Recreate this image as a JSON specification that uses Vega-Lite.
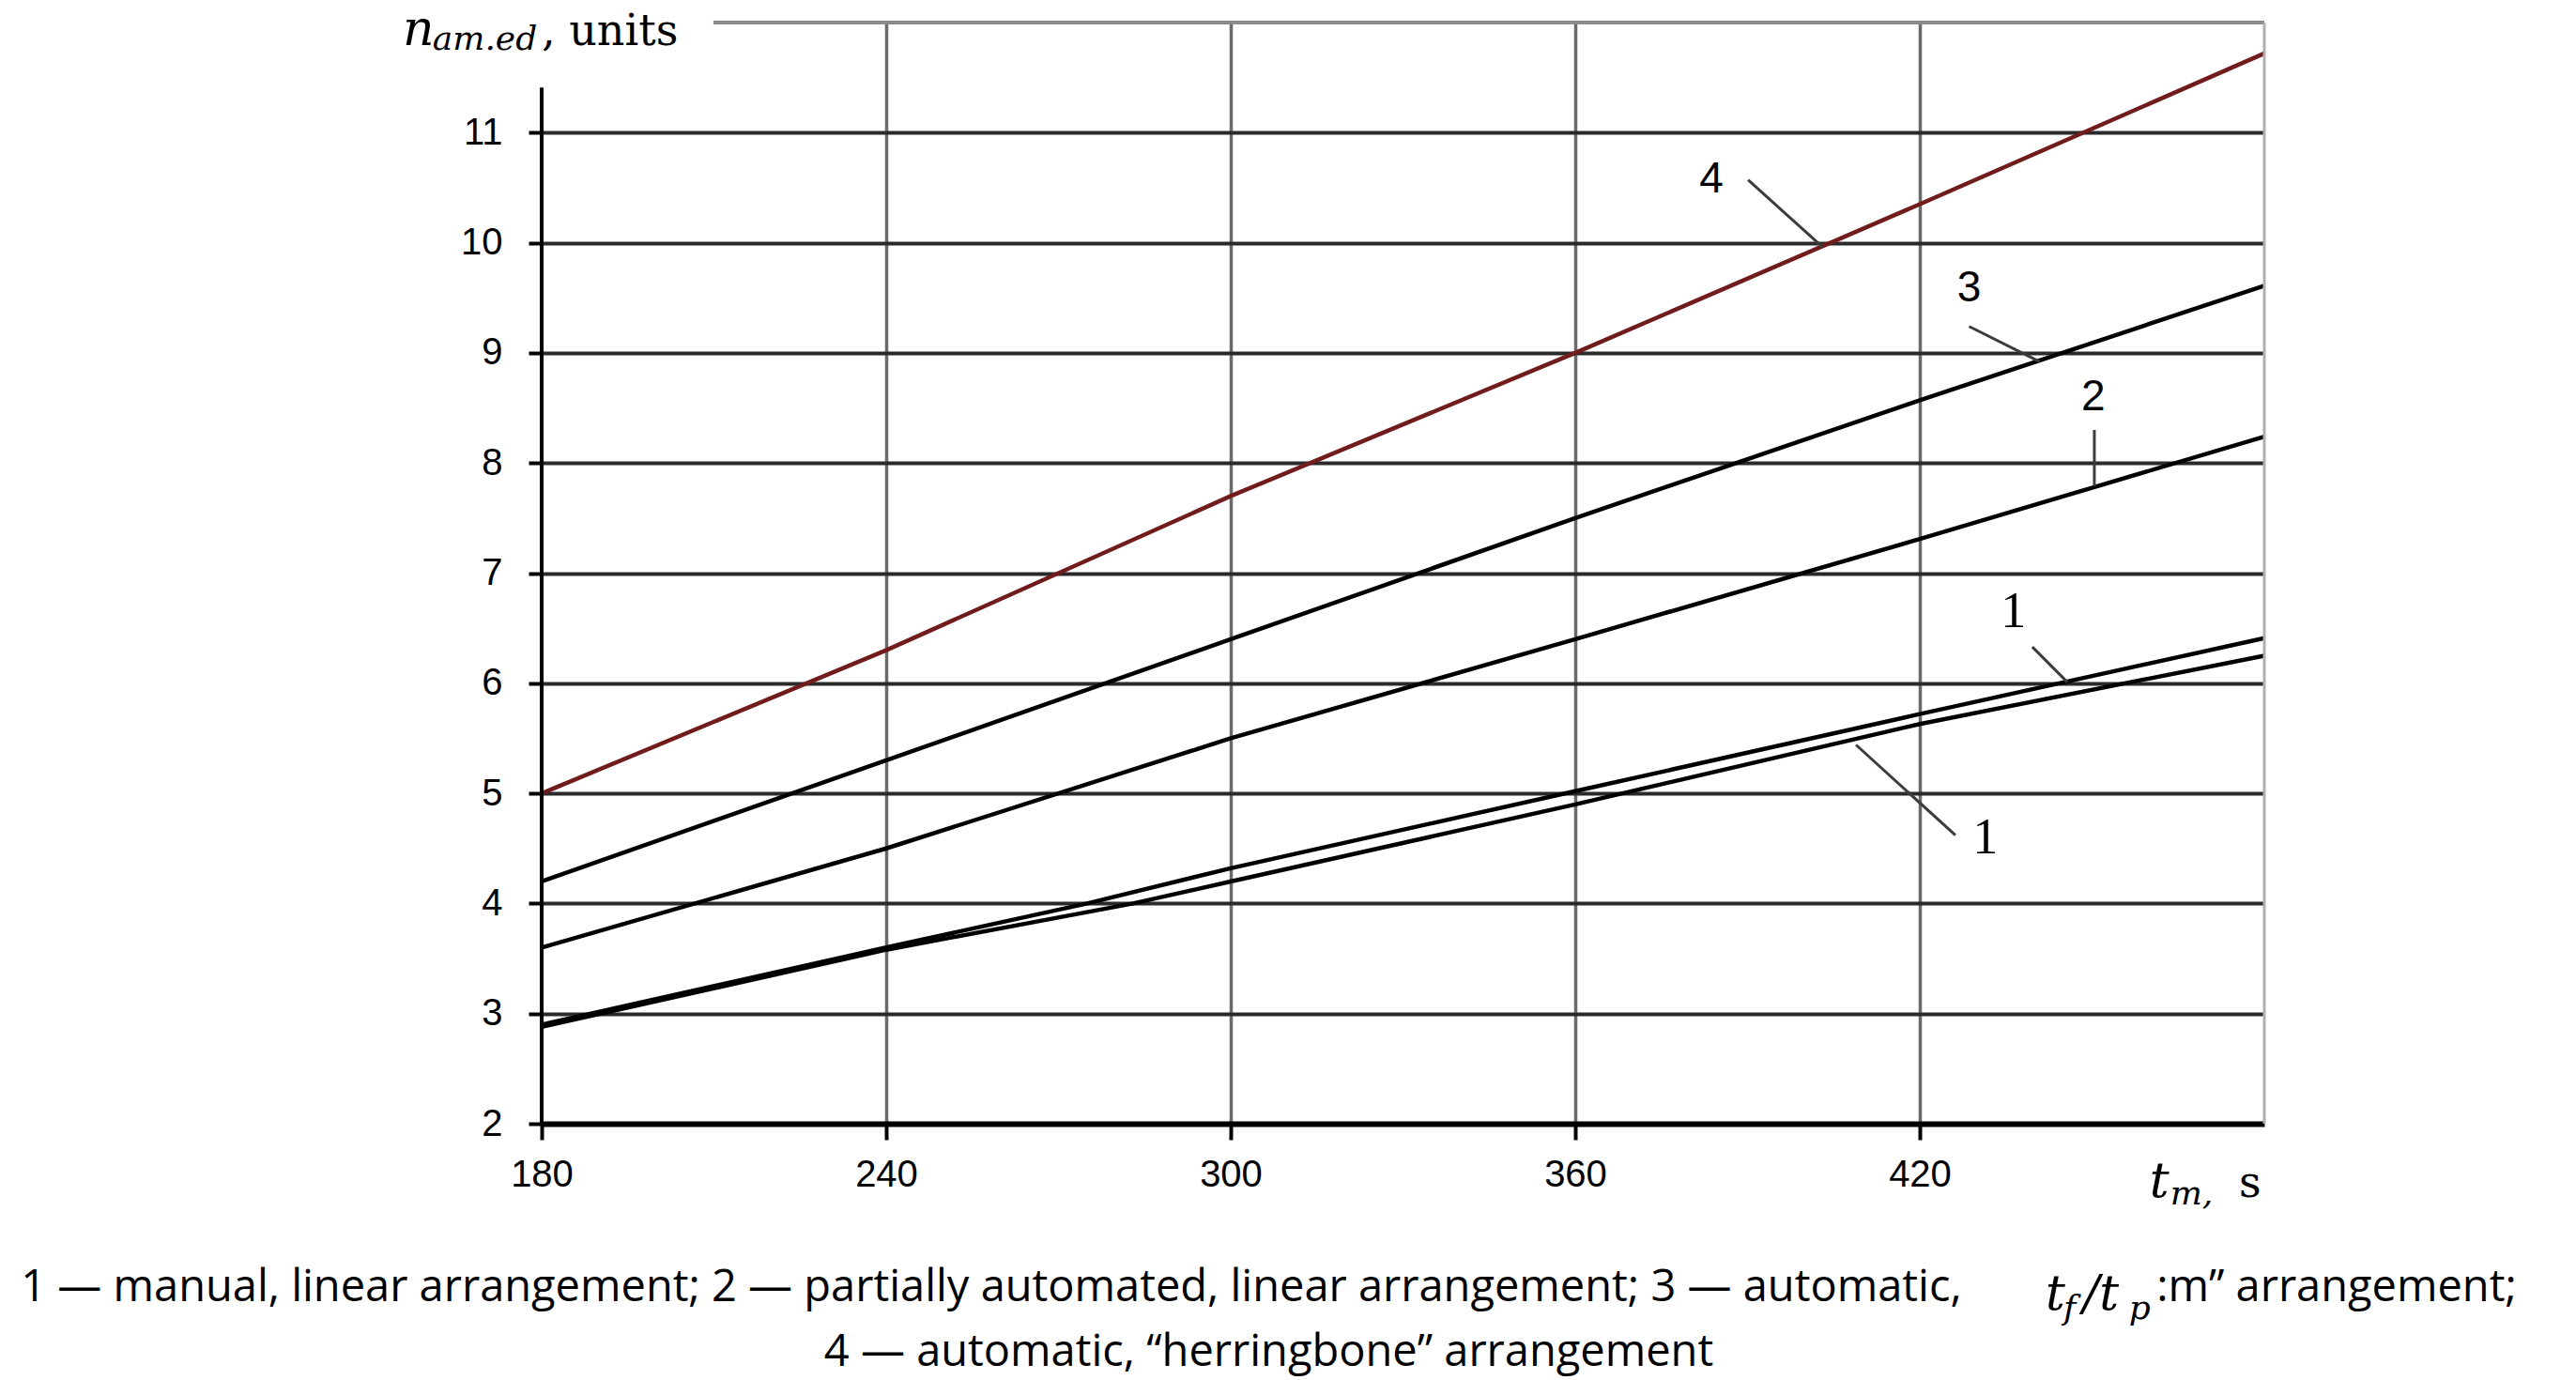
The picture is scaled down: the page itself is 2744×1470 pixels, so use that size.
{
  "$schema": "https://vega.github.io/schema/vega-lite/v6.json",
  "width": 1835,
  "height": 1173,
  "autosize": {"type": "none"},
  "padding": {"left": 577, "top": 24, "right": 332, "bottom": 273},
  "background": "white",
  "config": {"view": {"stroke": null}},
  "title": {
    "text": [
      "1 — manual, linear arrangement; 2 — partially automated, linear arrangement; 3 — automatic,\u00a0\u00a0\u00a0\u00a0\u00a0\u00a0\u00a0\u00a0\u00a0\u00a0\u00a0\u00a0\u00a0\u00a0\u00a0\u00a0\u00a0:m” arrangement;",
      "4 — automatic, “herringbone” arrangement"
    ],
    "orient": "bottom",
    "anchor": "middle",
    "font": "Open Sans",
    "fontSize": 47,
    "fontWeight": "normal",
    "color": "#000000",
    "lineHeight": 69,
    "offset": -63,
    "dx": -143
  },
  "datasets": {
    "curves": [
      {"curve": "1a", "t": 180, "n": 2.9},
      {"curve": "1a", "t": 240, "n": 3.6},
      {"curve": "1a", "t": 275, "n": 4.0},
      {"curve": "1a", "t": 300, "n": 4.32},
      {"curve": "1a", "t": 360, "n": 5.02},
      {"curve": "1a", "t": 420, "n": 5.72},
      {"curve": "1a", "t": 480, "n": 6.41},
      {"curve": "1b", "t": 180, "n": 2.88},
      {"curve": "1b", "t": 240, "n": 3.58},
      {"curve": "1b", "t": 283, "n": 4.0},
      {"curve": "1b", "t": 300, "n": 4.2},
      {"curve": "1b", "t": 360, "n": 4.9},
      {"curve": "1b", "t": 420, "n": 5.63},
      {"curve": "1b", "t": 480, "n": 6.25},
      {"curve": "2", "t": 180, "n": 3.6},
      {"curve": "2", "t": 240, "n": 4.5},
      {"curve": "2", "t": 300, "n": 5.5},
      {"curve": "2", "t": 360, "n": 6.4},
      {"curve": "2", "t": 420, "n": 7.31},
      {"curve": "2", "t": 480, "n": 8.24},
      {"curve": "3", "t": 180, "n": 4.2},
      {"curve": "3", "t": 240, "n": 5.3},
      {"curve": "3", "t": 300, "n": 6.4},
      {"curve": "3", "t": 360, "n": 7.5},
      {"curve": "3", "t": 420, "n": 8.57},
      {"curve": "3", "t": 480, "n": 9.61},
      {"curve": "4", "t": 180, "n": 5.0},
      {"curve": "4", "t": 240, "n": 6.3},
      {"curve": "4", "t": 300, "n": 7.7},
      {"curve": "4", "t": 360, "n": 9.0},
      {"curve": "4", "t": 420, "n": 10.35},
      {"curve": "4", "t": 480, "n": 11.72}
    ],
    "leaders": [
      {"t": 390.1, "n": 10.57, "t2": 403.1, "n2": 9.96},
      {"t": 428.6, "n": 9.24, "t2": 440.9, "n2": 8.92},
      {"t": 450.4, "n": 8.3, "t2": 450.4, "n2": 7.79},
      {"t": 439.6, "n": 6.33, "t2": 445.7, "n2": 6.01},
      {"t": 408.9, "n": 5.44, "t2": 426.2, "n2": 4.62}
    ],
    "labelsSans": [
      {"label": "4", "t": 383.7, "n": 10.58},
      {"label": "3", "t": 428.6, "n": 9.59},
      {"label": "2", "t": 450.2, "n": 8.6}
    ],
    "labelsSerif": [
      {"label": "1", "t": 436.3, "n": 6.65},
      {"label": "1", "t": 431.4, "n": 4.59}
    ],
    "mathMain": [
      {"label": "n", "t": 155.8, "n": 11.795},
      {"label": "t", "t": 460.0, "n": 1.335},
      {"label": "t", "t": 441.9, "n": 0.312},
      {"label": "/t", "t": 448.4, "n": 0.312}
    ],
    "mathSub": [
      {"label": "am.ed", "t": 161.0, "n": 11.753},
      {"label": "m,", "t": 463.6, "n": 1.267},
      {"label": "f", "t": 445.0, "n": 0.227},
      {"label": "p", "t": 456.4, "n": 0.227}
    ],
    "plainText": [
      {"label": ", units", "t": 180.0, "n": 11.795},
      {"label": "s", "t": 475.6, "n": 1.335}
    ]
  },
  "layer": [
    {
      "data": {"name": "curves"},
      "mark": {"type": "line", "strokeWidth": 4.5},
      "encoding": {
        "x": {
          "field": "t", "type": "quantitative", "title": null,
          "scale": {"domain": [180, 480], "nice": false, "zero": false},
          "axis": {
            "values": [180, 240, 300, 360, 420],
            "format": "d",
            "grid": true,
            "gridColor": "#6a6a6a",
            "gridWidth": 3.5,
            "gridOpacity": {"condition": {"test": "datum.value === 180", "value": 0}, "value": 1},
            "domain": true,
            "domainColor": "#000000",
            "domainWidth": 6,
            "ticks": true,
            "tickColor": "#000000",
            "tickWidth": 4,
            "tickSize": 17,
            "labelFont": "Liberation Sans, sans-serif",
            "labelFontSize": 40,
            "labelColor": "#000000",
            "labelPadding": 17,
            "labelFlush": false,
            "labelOverlap": false
          }
        },
        "y": {
          "field": "n", "type": "quantitative", "title": null,
          "scale": {"domain": [2, 12], "nice": false, "zero": false},
          "axis": {
            "values": [2, 3, 4, 5, 6, 7, 8, 9, 10, 11],
            "format": "d",
            "grid": true,
            "gridColor": "#2a2a2a",
            "gridWidth": 4,
            "gridOpacity": {"condition": {"test": "datum.value === 2", "value": 0}, "value": 1},
            "domain": false,
            "ticks": true,
            "tickColor": "#000000",
            "tickWidth": 4,
            "tickSize": 14,
            "labelFont": "Liberation Sans, sans-serif",
            "labelFontSize": 40,
            "labelColor": "#000000",
            "labelPadding": 28,
            "labelFlush": false,
            "labelOverlap": false
          }
        },
        "color": {
          "field": "curve", "type": "nominal",
          "scale": {"domain": ["1a", "1b", "2", "3", "4"], "range": ["#000000", "#000000", "#000000", "#000000", "#701c1c"]},
          "legend": null
        }
      }
    },
    {
      "data": {"values": [{}]},
      "mark": {"type": "rule", "color": "#000000", "strokeWidth": 4},
      "encoding": {"x": {"datum": 180}, "y": {"datum": 2}, "y2": {"datum": 11.41}}
    },
    {
      "data": {"values": [{}]},
      "mark": {"type": "rule", "color": "#8a8a8a", "strokeWidth": 4},
      "encoding": {"x": {"datum": 209.9}, "x2": {"datum": 480}, "y": {"datum": 12}}
    },
    {
      "data": {"values": [{}]},
      "mark": {"type": "rule", "color": "#b0b0b0", "strokeWidth": 3},
      "encoding": {"x": {"datum": 480}, "y": {"datum": 2}, "y2": {"datum": 12}}
    },
    {
      "data": {"name": "leaders"},
      "mark": {"type": "rule", "color": "#3c3c3c", "strokeWidth": 3},
      "encoding": {
        "x": {"field": "t", "type": "quantitative", "title": null},
        "y": {"field": "n", "type": "quantitative", "title": null},
        "x2": {"field": "t2"},
        "y2": {"field": "n2"}
      }
    },
    {
      "data": {"name": "labelsSans"},
      "mark": {"type": "text", "font": "Liberation Sans, sans-serif", "fontSize": 46, "align": "center", "baseline": "middle", "color": "#000000"},
      "encoding": {
        "x": {"field": "t", "type": "quantitative", "title": null},
        "y": {"field": "n", "type": "quantitative", "title": null},
        "text": {"field": "label"}
      }
    },
    {
      "data": {"name": "labelsSerif"},
      "mark": {"type": "text", "font": "Liberation Serif", "fontSize": 54, "align": "center", "baseline": "middle", "color": "#000000"},
      "encoding": {
        "x": {"field": "t", "type": "quantitative", "title": null},
        "y": {"field": "n", "type": "quantitative", "title": null},
        "text": {"field": "label"}
      }
    },
    {
      "data": {"name": "mathMain"},
      "mark": {"type": "text", "font": "DejaVu Serif", "fontStyle": "italic", "fontSize": 52, "align": "left", "baseline": "alphabetic", "color": "#000000"},
      "encoding": {
        "x": {"field": "t", "type": "quantitative", "title": null},
        "y": {"field": "n", "type": "quantitative", "title": null},
        "text": {"field": "label"}
      }
    },
    {
      "data": {"name": "mathSub"},
      "mark": {"type": "text", "font": "DejaVu Serif", "fontStyle": "italic", "fontSize": 36, "align": "left", "baseline": "alphabetic", "color": "#000000"},
      "encoding": {
        "x": {"field": "t", "type": "quantitative", "title": null},
        "y": {"field": "n", "type": "quantitative", "title": null},
        "text": {"field": "label"}
      }
    },
    {
      "data": {"name": "plainText"},
      "mark": {"type": "text", "font": "DejaVu Serif", "fontSize": 46, "align": "left", "baseline": "alphabetic", "color": "#000000"},
      "encoding": {
        "x": {"field": "t", "type": "quantitative", "title": null},
        "y": {"field": "n", "type": "quantitative", "title": null},
        "text": {"field": "label"}
      }
    }
  ]
}
